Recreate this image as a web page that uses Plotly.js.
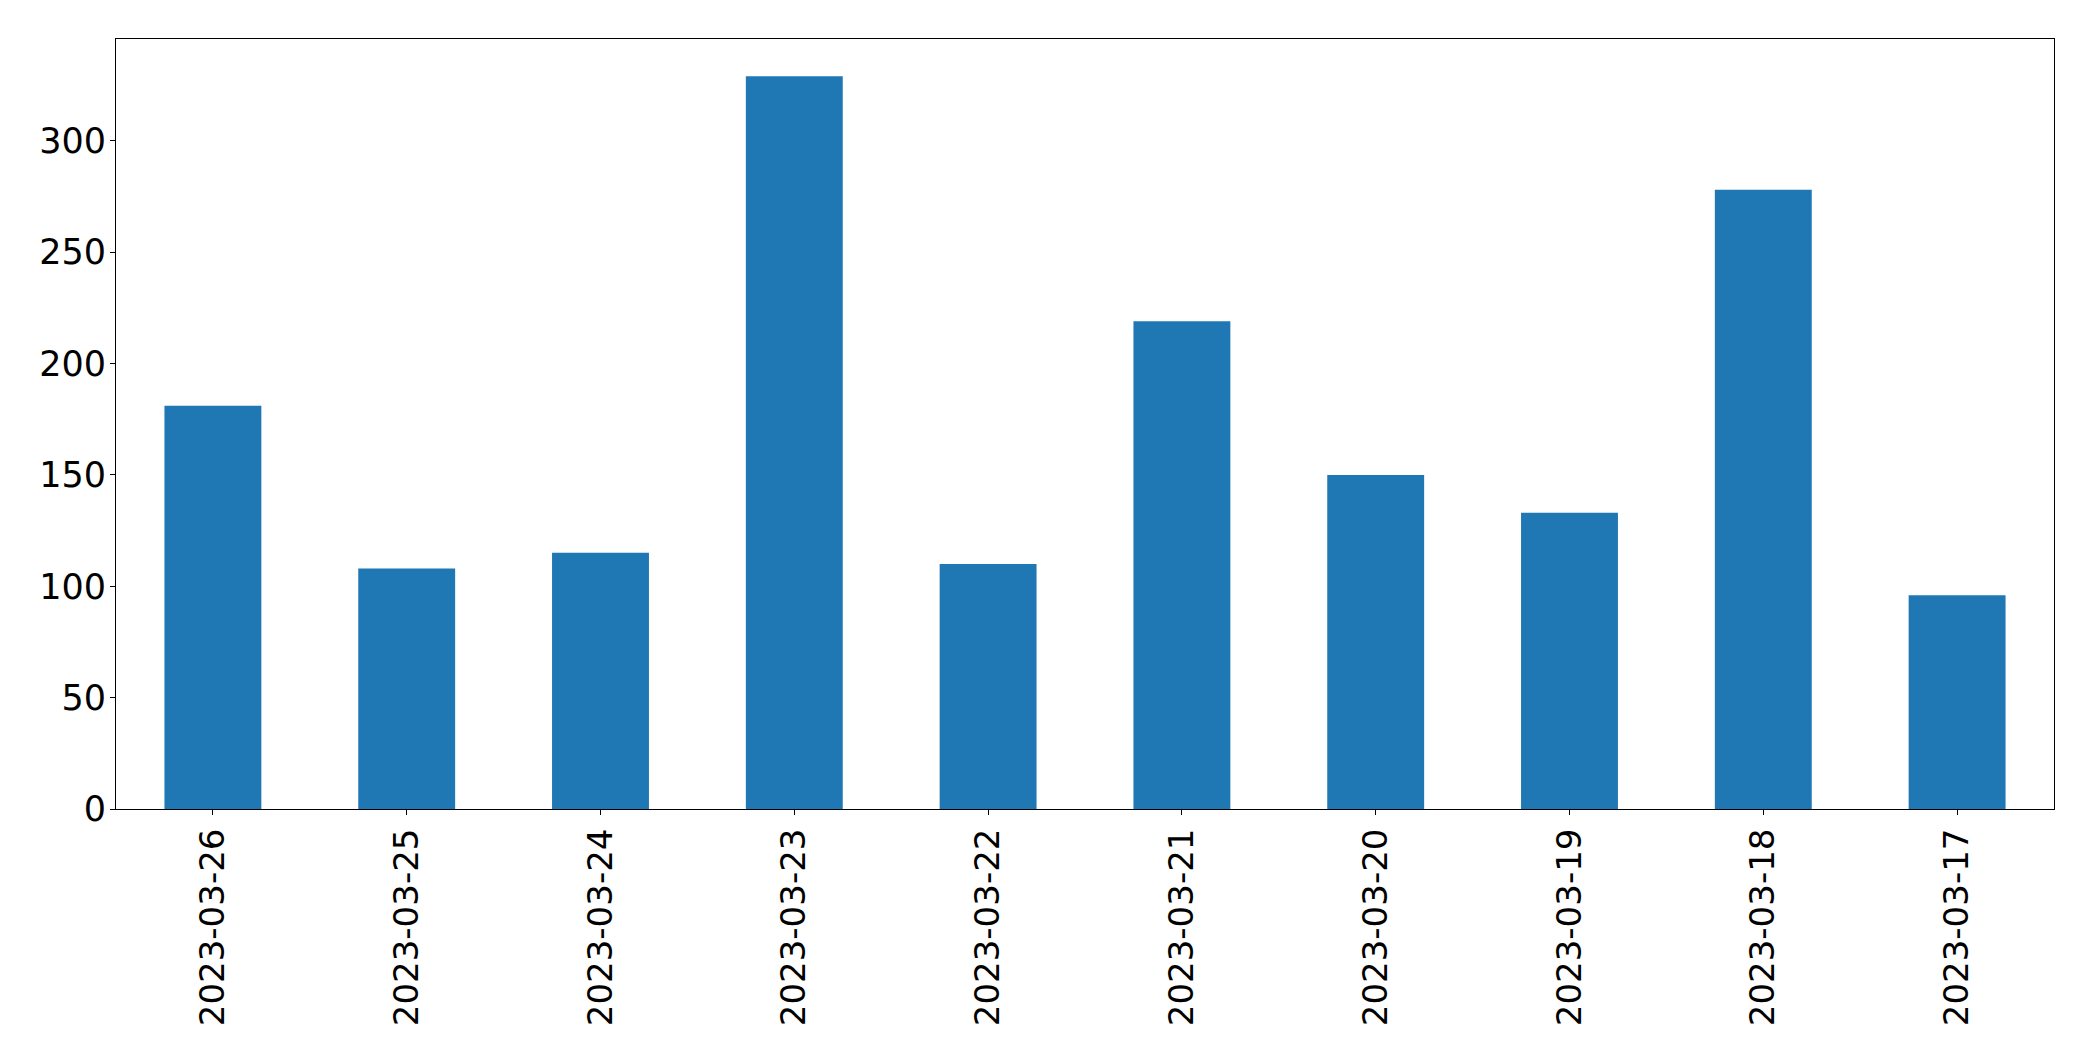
<!DOCTYPE html>
<html>
<head>
<meta charset="utf-8">
<script src="https://cdn.plot.ly/plotly-3.0.1.min.js"></script>
<style>html,body{margin:0;padding:0;background:#fff;}#chart{width:2093px;height:1061px;}</style>
</head>
<body>
<div id="chart"></div>
<script>
const categories = ["2023-03-26","2023-03-25","2023-03-24","2023-03-23","2023-03-22","2023-03-21","2023-03-20","2023-03-19","2023-03-18","2023-03-17"];
const values = [181, 108, 115, 329, 110, 219, 150, 133, 278, 96];
const yTicks = [0, 50, 100, 150, 200, 250, 300];

const trace = {
  type: 'bar',
  x: categories,
  y: values,
  width: 0.5,
  marker: {color: '#1f77b4', line: {width: 0}},
  hoverinfo: 'x+y'
};

const axisCommon = {
  showline: true, linecolor: '#000', linewidth: 1, mirror: true,
  ticks: 'outside', ticklen: 5, tickwidth: 1, tickcolor: '#000',
  showgrid: false, zeroline: false,
  tickfont: {family: 'DejaVu Sans', size: 34, color: '#000'}
};

const layout = {
  width: 2093, height: 1061,
  margin: {l: 116, r: 39, t: 39, b: 252, pad: 0},
  paper_bgcolor: '#fff', plot_bgcolor: '#fff',
  showlegend: false,
  bargap: 0.5,
  xaxis: Object.assign({}, axisCommon, {
    type: 'category', range: [-0.5, categories.length - 0.5],
    tickangle: -90, categoryorder: 'array', categoryarray: categories
  }),
  yaxis: Object.assign({}, axisCommon, {
    range: [0, 345.7], tickvals: yTicks, ticktext: yTicks.map(String),
    tickfont: {family: 'DejaVu Sans', size: 35, color: '#000'},
    ticklabelstandoff: -3
  })
};

Plotly.newPlot('chart', [trace], layout, {displayModeBar: false, staticPlot: true});
</script>
</body>
</html>
